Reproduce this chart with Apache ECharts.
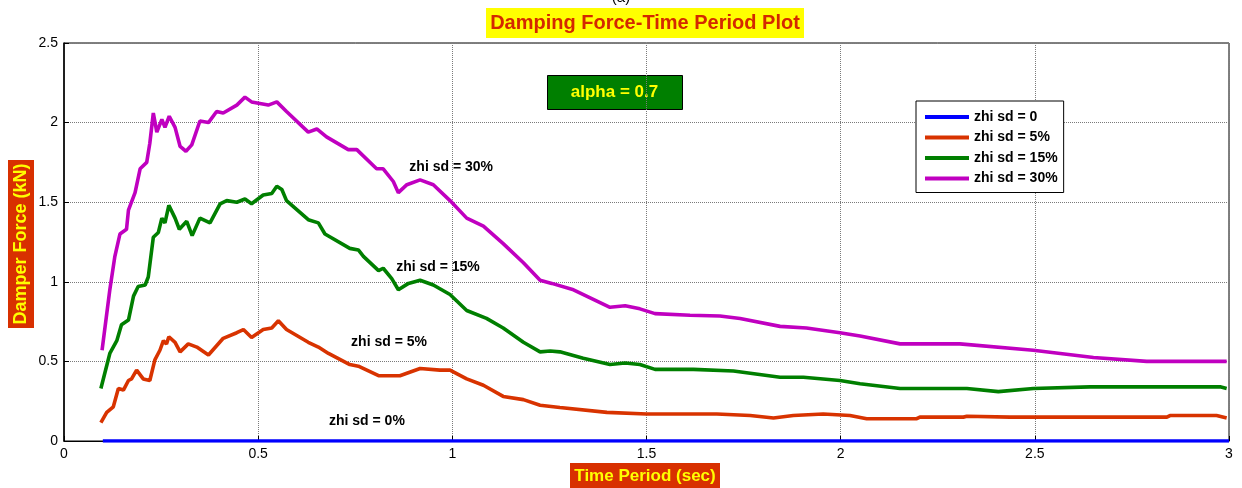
<!DOCTYPE html>
<html>
<head>
<meta charset="utf-8">
<script src="https://cdn.jsdelivr.net/npm/echarts@6/dist/echarts.min.js"></script>
<style>
html,body{margin:0;padding:0;background:#fff;}
#c{width:1242px;height:488px;}
</style>
</head>
<body>
<div id="c"></div>
<script>
// ---- data ----
const xTicks = [0, 0.5, 1, 1.5, 2, 2.5, 3];
const yTicks = [0, 0.5, 1, 1.5, 2, 2.5];
const seriesNames = ['zhi sd = 0', 'zhi sd = 5%', 'zhi sd = 15%', 'zhi sd = 30%'];

const t0 = [0.1, 3.0];
const y0 = [0, 0];

const t5 = [0.095,0.110,0.127,0.140,0.153,0.166,0.174,0.187,0.204,0.221,0.234,0.247,0.256,0.264,0.270,0.286,0.299,0.320,0.342,0.372,0.410,0.445,0.462,0.483,0.513,0.535,0.552,0.573,0.629,0.655,0.681,0.736,0.758,0.810,0.865,0.917,0.968,0.994,1.037,1.080,1.131,1.183,1.226,1.277,1.398,1.500,1.681,1.767,1.827,1.878,1.955,2.024,2.067,2.196,2.204,2.316,2.325,2.436,2.539,2.840,2.848,2.968,2.994];
const y5 = [0.115,0.18,0.215,0.33,0.32,0.38,0.39,0.445,0.39,0.38,0.51,0.57,0.63,0.61,0.655,0.62,0.56,0.61,0.59,0.54,0.645,0.68,0.70,0.65,0.70,0.71,0.755,0.70,0.62,0.59,0.55,0.48,0.47,0.41,0.41,0.455,0.445,0.445,0.39,0.35,0.28,0.26,0.225,0.21,0.18,0.17,0.17,0.16,0.145,0.16,0.17,0.16,0.14,0.14,0.15,0.15,0.155,0.15,0.15,0.15,0.16,0.16,0.145];

const t15 = [0.095,0.118,0.136,0.148,0.166,0.179,0.191,0.209,0.217,0.230,0.243,0.252,0.260,0.270,0.286,0.297,0.316,0.330,0.350,0.376,0.402,0.419,0.445,0.466,0.483,0.513,0.535,0.548,0.561,0.573,0.629,0.655,0.672,0.736,0.758,0.771,0.810,0.822,0.844,0.861,0.887,0.917,0.951,0.994,1.037,1.088,1.131,1.183,1.226,1.252,1.277,1.337,1.406,1.445,1.483,1.522,1.621,1.724,1.844,1.904,1.998,2.050,2.153,2.325,2.406,2.496,2.642,2.857,2.977,2.994];
const y15 = [0.33,0.55,0.63,0.73,0.76,0.91,0.97,0.98,1.03,1.28,1.31,1.40,1.37,1.48,1.40,1.33,1.38,1.29,1.40,1.37,1.49,1.51,1.50,1.52,1.49,1.545,1.555,1.60,1.58,1.51,1.39,1.37,1.30,1.21,1.20,1.16,1.07,1.085,1.02,0.95,0.99,1.01,0.98,0.92,0.82,0.77,0.71,0.62,0.56,0.565,0.56,0.52,0.48,0.49,0.48,0.45,0.45,0.44,0.40,0.40,0.38,0.36,0.33,0.33,0.31,0.33,0.34,0.34,0.34,0.33];

const t30 = [0.098,0.118,0.131,0.144,0.161,0.166,0.183,0.196,0.213,0.221,0.230,0.239,0.252,0.260,0.271,0.286,0.299,0.314,0.329,0.350,0.372,0.393,0.410,0.445,0.466,0.483,0.526,0.548,0.573,0.629,0.651,0.676,0.732,0.754,0.805,0.822,0.848,0.861,0.883,0.917,0.951,0.994,1.037,1.080,1.131,1.183,1.226,1.256,1.312,1.406,1.445,1.483,1.522,1.612,1.689,1.741,1.844,1.912,1.998,2.050,2.153,2.307,2.496,2.651,2.788,2.994];
const y30 = [0.57,0.95,1.16,1.30,1.33,1.45,1.56,1.71,1.75,1.87,2.06,1.94,2.02,1.97,2.04,1.97,1.85,1.82,1.86,2.01,2.00,2.07,2.06,2.11,2.16,2.13,2.11,2.13,2.07,1.94,1.96,1.91,1.83,1.83,1.71,1.71,1.63,1.56,1.61,1.64,1.61,1.51,1.40,1.35,1.24,1.12,1.01,0.99,0.95,0.84,0.85,0.83,0.80,0.79,0.785,0.77,0.72,0.71,0.68,0.66,0.61,0.61,0.57,0.525,0.50,0.50];

// curve annotations: [t, value, text]
const annotations = [
  [0.997, 1.72, 'zhi sd = 30%'],
  [0.963, 1.09, 'zhi sd = 15%'],
  [0.837, 0.62, 'zhi sd = 5%'],
  [0.78, 0.126, 'zhi sd = 0%']
];

const colors = ['#0000ff', '#d83300', '#007f00', '#c000c0'];
const pairs = (ts, ys) => ts.map((t, i) => [t, ys[i]]);
const allData = [pairs(t0, y0), pairs(t5, y5), pairs(t15, y15), pairs(t30, y30)];

const FONT = '"Liberation Sans", Arial, sans-serif';
const chart = echarts.init(document.getElementById('c'), null, {renderer: 'canvas'});

const series = allData.map((d, i) => ({
  name: seriesNames[i],
  type: 'line',
  data: d,
  showSymbol: false,
  symbol: 'none',
  lineStyle: {width: 3.6, color: colors[i]},
  itemStyle: {color: colors[i]},
  animation: false,
  z: 3 + i
}));

series.push({
  type: 'scatter',
  data: annotations.map(a => ({value: [a[0], a[1]], name: a[2]})),
  symbolSize: 0,
  silent: true,
  itemStyle: {color: '#000', opacity: 1},
  label: {
    show: true, position: 'inside', formatter: p => p.name,
    fontFamily: FONT, fontWeight: 'bold', fontSize: 14, color: '#000', opacity: 1,
    textBorderWidth: 0, textShadowBlur: 0
  },
  animation: false,
  z: 10
});

chart.setOption({
  backgroundColor: '#fff',
  animation: false,
  grid: {left: 64, right: 13, top: 43, bottom: 47, show: true, borderColor: '#000', borderWidth: 1, backgroundColor: 'transparent'},
  xAxis: [{
    type: 'value', min: 0, max: 3, interval: 0.5,
    axisLine: {show: true, lineStyle: {color: '#000', width: 1}},
    axisTick: {show: true, inside: true, length: 5, lineStyle: {color: '#000'}},
    axisLabel: {color: '#000', fontFamily: FONT, fontSize: 14, margin: 6, formatter: v => String(v)},
    splitLine: {show: true, lineStyle: {color: '#7a7a7a', type: [1, 1], width: 1}}
  }],
  yAxis: [{
    type: 'value', min: 0, max: 2.5, interval: 0.5,
    axisLine: {show: true, lineStyle: {color: '#000', width: 1.5}},
    axisTick: {show: true, inside: true, length: 5, lineStyle: {color: '#000'}},
    axisLabel: {color: '#000', fontFamily: FONT, fontSize: 14, margin: 6, formatter: v => String(v)},
    splitLine: {show: true, lineStyle: {color: '#7a7a7a', type: [1, 1], width: 1}}
  }],
  legend: {
    data: seriesNames,
    orient: 'vertical',
    left: 916, top: 101,
    backgroundColor: '#fff',
    borderColor: '#000', borderWidth: 1,
    padding: [9, 6, 7, 9],
    itemWidth: 44, itemHeight: 4,
    itemGap: 6.5,
    icon: 'rect',
    textStyle: {fontFamily: FONT, fontWeight: 'bold', fontSize: 14, color: '#000'}
  },
  graphic: [
    {type: 'text', left: 'center', top: -10, style: {text: '(a)', fontFamily: FONT, fontSize: 15, fill: '#000'}},
    {type: 'group', left: 486, top: 8, children: [
      {type: 'rect', shape: {x: 0, y: 0, width: 318, height: 30}, style: {fill: '#ffff00'}},
      {type: 'text', x: 159, y: 15, style: {text: 'Damping Force-Time Period Plot', fontFamily: FONT, fontWeight: 'bold', fontSize: 20, fill: '#d42800', align: 'center', verticalAlign: 'middle'}}
    ]},
    {type: 'group', left: 547, top: 75, z: 20, children: [
      {type: 'rect', shape: {x: 0, y: 0, width: 135, height: 34}, style: {fill: '#007f00', stroke: '#000', lineWidth: 1}},
      {type: 'text', x: 67, y: 17, style: {text: 'alpha = 0.7', fontFamily: FONT, fontWeight: 'bold', fontSize: 17, fill: '#ffff00', align: 'center', verticalAlign: 'middle'}}
    ]},
    {type: 'group', left: 570, top: 463, children: [
      {type: 'rect', shape: {x: 0, y: 0, width: 150, height: 25}, style: {fill: '#d83000'}},
      {type: 'text', x: 75, y: 13, style: {text: 'Time Period (sec)', fontFamily: FONT, fontWeight: 'bold', fontSize: 17, fill: '#ffff00', align: 'center', verticalAlign: 'middle'}}
    ]},
    {type: 'group', left: 8, top: 160, children: [
      {type: 'rect', shape: {x: 0, y: 0, width: 26, height: 168}, style: {fill: '#d83000'}},
      {type: 'text', x: 13, y: 84, rotation: Math.PI / 2, style: {text: 'Damper Force (kN)', fontFamily: FONT, fontWeight: 'bold', fontSize: 18, fill: '#ffff00', align: 'center', verticalAlign: 'middle'}}
    ]}
  ],
  series: series
});
</script>
</body>
</html>
